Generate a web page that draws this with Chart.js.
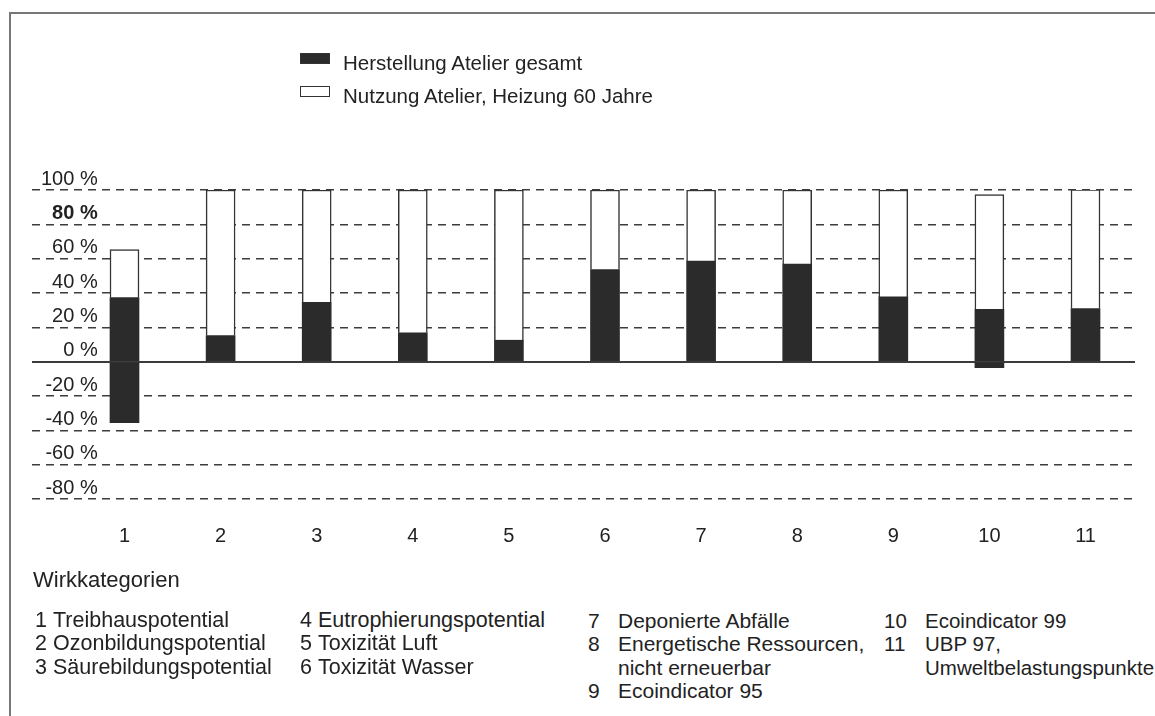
<!DOCTYPE html>
<html>
<head>
<meta charset="utf-8">
<script src="https://cdn.jsdelivr.net/npm/chart.js@4.4.0/dist/chart.umd.min.js"></script>
<style>
  html, body { margin: 0; padding: 0; background: #ffffff; }
  body { width: 1155px; height: 716px; position: relative; overflow: hidden;
         font-family: 'Liberation Sans', Arial, sans-serif; color: #222; }
  #frame { position: absolute; left: 9px; top: 12px; right: -20px; bottom: -20px;
           border-left: 2px solid #777; border-top: 2px solid #777; }
  #chartWrap { position: absolute; left: 0; top: 0; width: 1155px; height: 580px; }
  .lg { position: absolute; left: 300px; height: 24px; }
  .lg .box { position: absolute; left: 0; width: 28px; height: 9px; border: 1.5px solid #333; }
  .lg .txt { position: absolute; left: 43px; top: 0; white-space: nowrap;
             font-size: 20.5px; line-height: 24px; }
  #wk { position: absolute; left: 33px; top: 566px; font-size: 22px; line-height: 28px; }
  .col { position: absolute; top: 609px; font-size: 21.5px; line-height: 23.3px; }
  .row { position: relative; white-space: nowrap; height: 23.3px; }
  .num { position: absolute; left: 0; }
</style>
</head>
<body>
<div id="frame"></div>
<div id="chartWrap"><canvas id="c" width="1155" height="580"></canvas></div>
<div id="legend"></div>
<div id="wk">Wirkkategorien</div>
<div id="list"></div>
<script>
// ---- data ----
const categories = ['1', '2', '3', '4', '5', '6', '7', '8', '9', '10', '11'];
const seriesNames = ['Herstellung Atelier gesamt', 'Nutzung Atelier, Heizung 60 Jahre'];
const herstellung = [37.4, 15.2, 34.5, 16.8, 12.5, 53.7, 58.6, 56.8, 37.7, 30.5, 30.9];
const herstellungNegativ = [-35.5, null, null, null, null, null, null, null, null, -3.5, null];
const nutzung = [27.9, 84.8, 65.5, 83.2, 87.5, 46.3, 41.4, 43.2, 62.3, 66.8, 69.3];
const yTicks = [-80, -60, -40, -20, 0, 20, 40, 60, 80, 100];
const categoryNames = [
  'Treibhauspotential', 'Ozonbildungspotential', 'Säurebildungspotential',
  'Eutrophierungspotential', 'Toxizität Luft', 'Toxizität Wasser',
  'Deponierte Abfälle', 'Energetische Ressourcen,\nnicht erneuerbar', 'Ecoindicator 95',
  'Ecoindicator 99', 'UBP 97,\nUmweltbelastungspunkte'
];
const categoryColumn = [0, 0, 0, 1, 1, 1, 2, 2, 2, 3, 3];

// ---- styles ----
const FONT = "'Liberation Sans', Arial, sans-serif";
const darkFill = '#2b2b2b';
const lightFill = '#ffffff';
const edge = '#333333';

const toXY = arr => arr.map((v, i) => ({ x: i + 1, y: v }));

// legend (HTML, built from series names)
const legendEl = document.getElementById('legend');
const legendFills = [darkFill, lightFill];
const legendTops = [51, 84];
seriesNames.forEach((name, i) => {
  const d = document.createElement('div');
  d.className = 'lg';
  d.style.top = legendTops[i] + 'px';
  d.innerHTML = '<div class="box" style="top:2px;background:' + legendFills[i] + '"></div>' +
                '<div class="txt"></div>';
  d.querySelector('.txt').textContent = name;
  legendEl.appendChild(d);
});

// category description list
const colLayout = [
  { left: 35, text: 18, size: 21.5 }, { left: 300, text: 18, size: 21.5 },
  { left: 588, text: 30, size: 21 }, { left: 884, text: 41, size: 20.5 }
];
const listEl = document.getElementById('list');
const cols = colLayout.map(c => {
  const el = document.createElement('div');
  el.className = 'col';
  el.style.left = c.left + 'px';
  el.style.fontSize = c.size + 'px';
  listEl.appendChild(el);
  return el;
});
categoryNames.forEach((name, i) => {
  const ci = categoryColumn[i];
  name.split('\n').forEach((line, j) => {
    const r = document.createElement('div');
    r.className = 'row';
    if (j === 0) {
      const n = document.createElement('span');
      n.className = 'num';
      n.textContent = categories[i];
      r.appendChild(n);
    }
    const t = document.createElement('span');
    t.style.position = 'absolute';
    t.style.left = colLayout[ci].text + 'px';
    t.textContent = line;
    r.appendChild(t);
    cols[ci].appendChild(r);
  });
});

// chart
new Chart(document.getElementById('c'), {
  type: 'bar',
  data: {
    datasets: [
      { label: seriesNames[0], data: toXY(herstellung), backgroundColor: darkFill,
        borderWidth: 0, barThickness: 29 },
      { label: seriesNames[1], data: toXY(nutzung), backgroundColor: lightFill,
        borderColor: edge, borderWidth: 1.5, barThickness: 29 },
      { label: seriesNames[0] + ' (negativ)', data: toXY(herstellungNegativ), backgroundColor: darkFill,
        borderWidth: 0, barThickness: 29 }
    ]
  },
  options: {
    responsive: false,
    animation: false,
    layout: { padding: { left: 14, right: 20, top: 190, bottom: 7 } },
    plugins: { legend: { display: false }, tooltip: { enabled: false } },
    scales: {
      x: {
        type: 'linear', stacked: true, offset: false, bounds: 'data',
        min: 0.0375, max: 11.515,
        afterBuildTicks: s => { s.ticks = categories.map((c, i) => ({ value: i + 1 })); },
        grid: { display: false, drawTicks: false, offset: false },
        border: { display: false },
        ticks: {
          autoSkip: false, maxRotation: 0,
          padding: 25, color: '#222', font: { family: FONT, size: 20 },
          callback: (v, i) => categories[i]
        }
      },
      y: {
        stacked: true, min: -80, max: 100,
        afterBuildTicks: s => { s.ticks = yTicks.map(v => ({ value: v })); },
        grid: {
          color: '#3c3c3c',
          lineWidth: ctx => (ctx.tick && ctx.tick.value === 0) ? 2 : 1.6,
          drawTicks: false
        },
        border: {
          display: false,
          dash: ctx => (ctx.tick && ctx.tick.value === 0) ? [] : [8, 6]
        },
        ticks: {
          mirror: true, crossAlign: 'far', padding: 9, labelOffset: -11,
          color: '#222',
          font: ctx => ({ family: FONT, size: 20,
                          weight: (ctx.tick && ctx.tick.value === 80) ? 'bold' : 'normal' }),
          callback: v => v + ' %'
        }
      }
    }
  }
});
</script>
</body>
</html>
